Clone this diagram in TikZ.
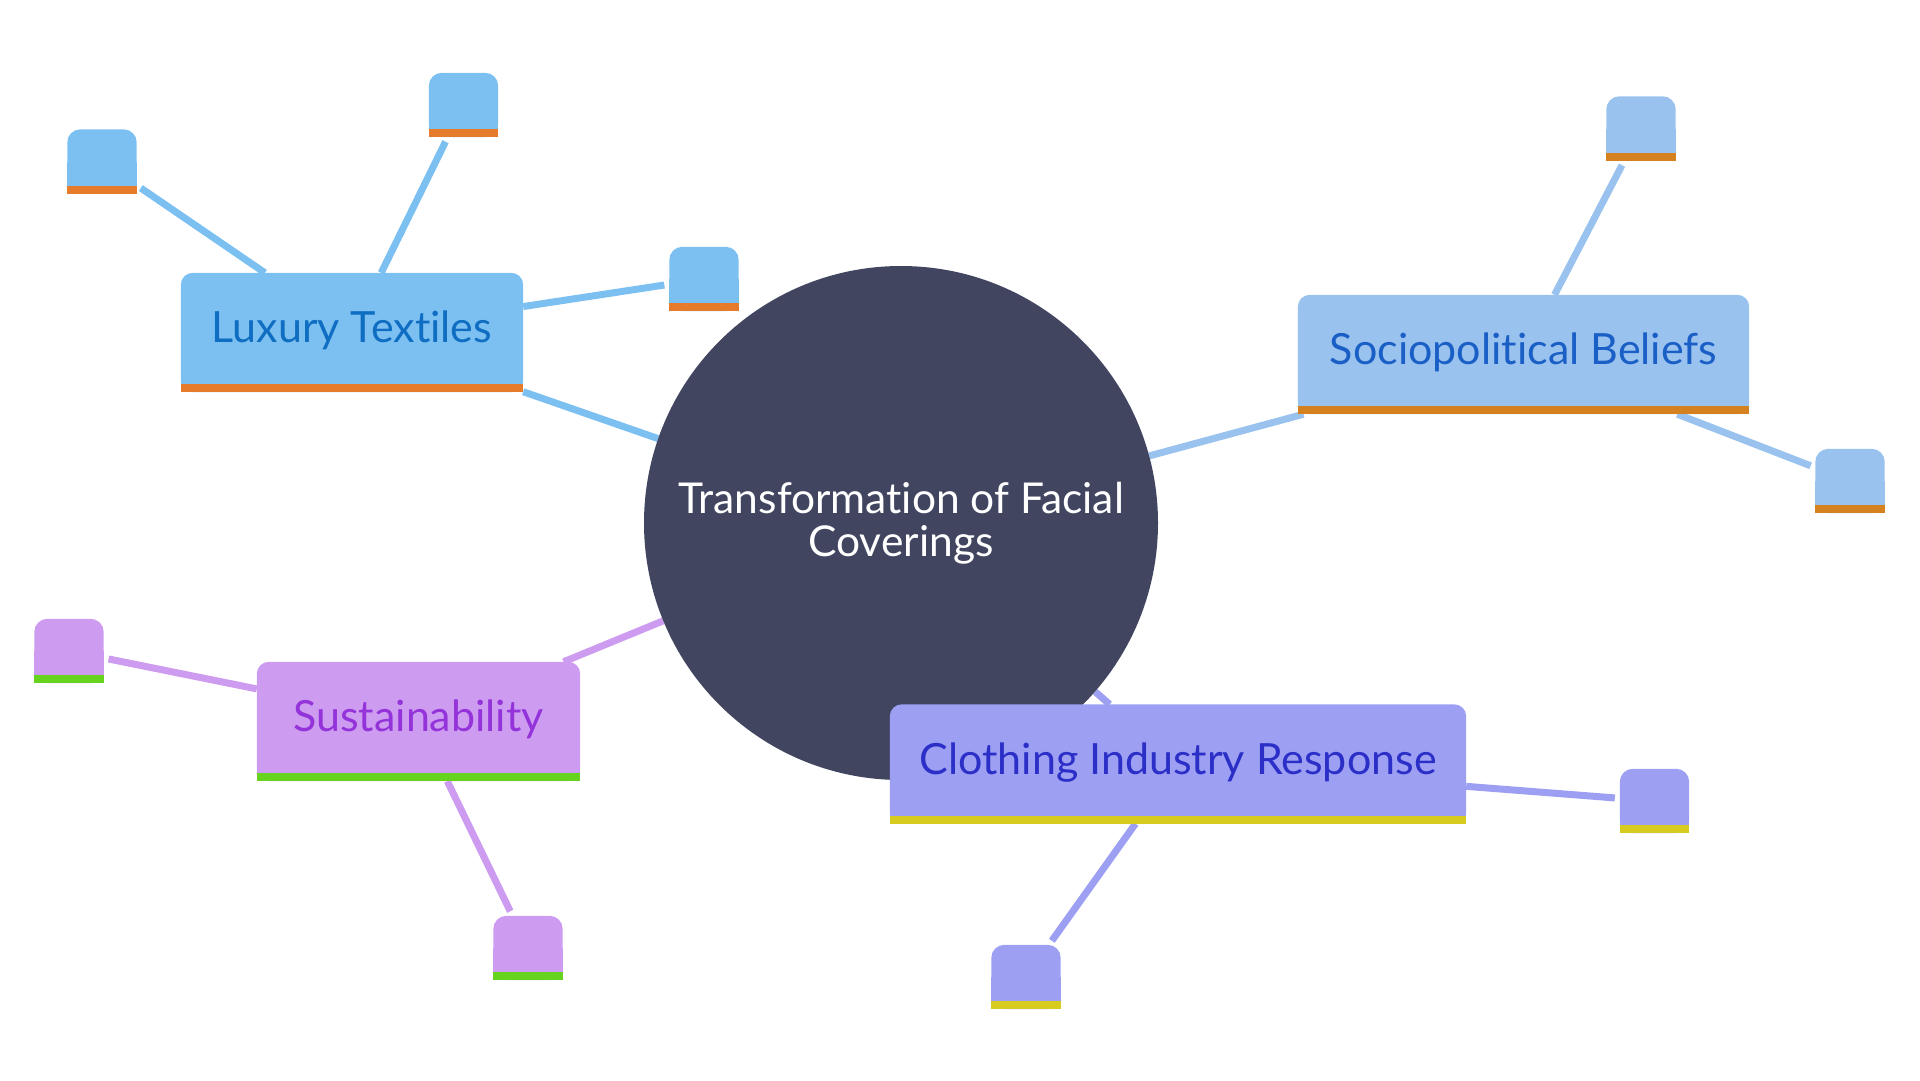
\documentclass[tikz,border=0pt]{standalone}
\usepackage{fontspec}
\setmainfont{Lato}[Ligatures={NoCommon}]
\pgfdeclarelayer{lines}
\pgfdeclarelayer{boxes}
\pgfsetlayers{lines,boxes,main}

\definecolor{hubc}{HTML}{414560}
\definecolor{luxfill}{HTML}{7CC0F2}
\definecolor{luxtext}{HTML}{0F6DC2}
\definecolor{luxbar}{HTML}{E67B2C}
\definecolor{socfill}{HTML}{9AC2EE}
\definecolor{soctext}{HTML}{1A5FC6}
\definecolor{socbar}{HTML}{D5811F}
\definecolor{clofill}{HTML}{9C9FF2}
\definecolor{clotext}{HTML}{2B2FC7}
\definecolor{clobar}{HTML}{D7CB1F}
\definecolor{susfill}{HTML}{CD9CF0}
\definecolor{sustext}{HTML}{9333D9}
\definecolor{susbar}{HTML}{66D31E}

\newcommand\bgbox[4]{%
  \begin{pgfonlayer}{boxes}
    \fill[#2, rounded corners=#4] (#1.south west) rectangle (#1.north east);
    \fill[#2] (#1.south west) rectangle (#1.east);
    \fill[#3] (#1.south west) rectangle ([yshift=8pt]#1.south east);
  \end{pgfonlayer}}

\tikzset{
  topic/.style={inner sep=0pt, minimum height=119pt, text height=31pt, text depth=11pt,
    font=\fontsize{43}{50}\selectfont},
  leaf/.style={inner sep=0pt, minimum width=69pt, minimum height=64pt},
  link/.style={line width=7pt},
  twig/.style={line width=7pt, shorten >=5pt},
}

\begin{document}
\begin{tikzpicture}[x=1pt,y=-1pt]
\useasboundingbox (0,0) rectangle (1920,1080);

% hub
\node[circle, minimum size=514pt, inner sep=0pt, text=white, align=center,
  font=\fontsize{42.5}{42.5}\selectfont] (hub) at (901,523) {Transformation of Facial\\Coverings};
\begin{pgfonlayer}{boxes}
  \fill[hubc] (hub.center) circle (257pt);
\end{pgfonlayer}

% main topics
\node[topic, minimum width=342pt, text=luxtext] (lux) at (352,332.5) {Luxury Textiles};
\node[topic, minimum width=451pt, text=soctext] (soc) at (1523.5,354.5) {Sociopolitical Beliefs};
\node[topic, minimum width=576pt, text=clotext] (clo) at (1178,764) {Clothing Industry Response};
\node[topic, minimum width=323pt, text=sustext] (sus) at (418.5,721.5) {Sustainability};
\bgbox{lux}{luxfill}{luxbar}{12pt}
\bgbox{soc}{socfill}{socbar}{12pt}
\bgbox{clo}{clofill}{clobar}{12pt}
\bgbox{sus}{susfill}{susbar}{12pt}

% leaves
\node[leaf] (l1) at (102,161.5) {};
\node[leaf] (l2) at (463.5,105) {};
\node[leaf] (l3) at (704,279) {};
\node[leaf] (s1) at (1641,128.5) {};
\node[leaf] (s2) at (1850,481) {};
\node[leaf] (c1) at (1654.5,801) {};
\node[leaf] (c2) at (1026,977) {};
\node[leaf] (u1) at (69,651) {};
\node[leaf] (u2) at (528,948) {};
\bgbox{l1}{luxfill}{luxbar}{13pt}
\bgbox{l2}{luxfill}{luxbar}{13pt}
\bgbox{l3}{luxfill}{luxbar}{13pt}
\bgbox{s1}{socfill}{socbar}{13pt}
\bgbox{s2}{socfill}{socbar}{13pt}
\bgbox{c1}{clofill}{clobar}{13pt}
\bgbox{c2}{clofill}{clobar}{13pt}
\bgbox{u1}{susfill}{susbar}{13pt}
\bgbox{u2}{susfill}{susbar}{13pt}

% connectors
\begin{pgfonlayer}{lines}
  \draw[link, luxfill] (hub) -- (lux);
  \draw[link, socfill] (hub) -- (soc);
  \draw[link, clofill] (hub) -- (clo);
  \draw[link, susfill] (hub) -- (sus);
  \draw[twig, luxfill] (lux) -- (l1);
  \draw[twig, luxfill] (lux) -- (l2);
  \draw[twig, luxfill] (lux) -- (l3);
  \draw[twig, socfill] (soc) -- (s1);
  \draw[twig, socfill] (soc) -- (s2);
  \draw[twig, clofill] (clo) -- (c1);
  \draw[twig, clofill] (clo) -- (c2);
  \draw[twig, susfill] (sus) -- (u1);
  \draw[twig, susfill] (sus) -- (u2);
\end{pgfonlayer}
\end{tikzpicture}
\end{document}
